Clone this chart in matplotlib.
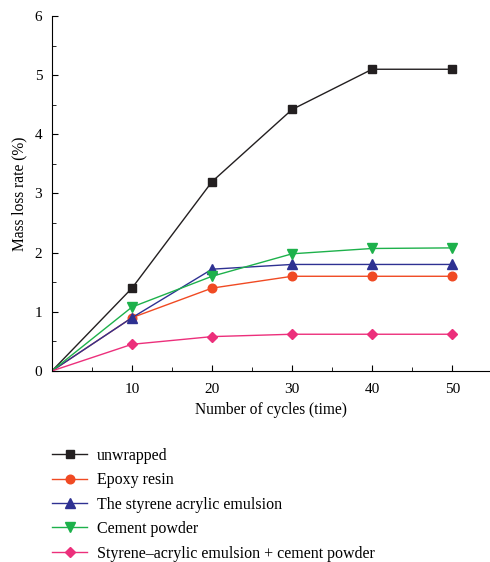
import numpy as np
import matplotlib.pyplot as plt
from matplotlib.ticker import MultipleLocator

plt.rcParams['font.family'] = ['Liberation Serif', 'DejaVu Serif']

cycles = [0, 10, 20, 30, 40, 50]
unwrapped = [0, 1.4, 3.2, 4.42, 5.1, 5.1]
epoxy = [0, 0.9, 1.4, 1.6, 1.6, 1.6]
styrene = [0, 0.9, 1.72, 1.8, 1.8, 1.8]
cement = [0, 1.08, 1.6, 1.98, 2.07, 2.08]
combo = [0, 0.45, 0.58, 0.62, 0.62, 0.62]

labels = ["unwrapped", "Epoxy resin", "The styrene acrylic emulsion",
          "Cement powder", "Styrene\u2013acrylic emulsion + cement powder"]
colors = ["#231f20", "#f04a23", "#2e3192", "#1db14b", "#ec2f7b"]
markers = ["s", "o", "^", "v", "D"]
sizes = [6.2, 6.2, 6.5, 6.5, 5.5]

fig = plt.figure(figsize=(4.9, 5.62), dpi=100)
ax = fig.add_axes([0.106, 0.340, 0.892, 0.6315])

for ys, lab, c, m, s in zip([unwrapped, epoxy, styrene, cement, combo],
                            labels, colors, markers, sizes):
    ax.plot(cycles, ys, color=c, marker=m, markersize=s, lw=1.0,
            label=lab, markevery=list(range(1, len(cycles))))

ax.set_xlim(0, 54.6)
ax.set_ylim(0, 6)
ax.set_xticks([10, 20, 30, 40, 50])
ax.xaxis.set_minor_locator(MultipleLocator(5))
ax.yaxis.set_major_locator(MultipleLocator(1))
ax.yaxis.set_minor_locator(MultipleLocator(0.5))
ax.tick_params(which='both', direction='in', labelsize=11)
ax.tick_params(which='major', length=4)
ax.tick_params(which='minor', length=3)
ax.tick_params(axis='x', pad=9)
ax.tick_params(axis='y', pad=7)
ax.spines['top'].set_visible(False)
ax.spines['right'].set_visible(False)
ax.set_xlabel("Number of cycles (time)", fontsize=11.2, labelpad=4)
ax.set_ylabel("Mass loss rate (%)", fontsize=11.2, labelpad=5)

h, l = ax.get_legend_handles_labels()
fig.legend(h, l, loc='upper left', bbox_to_anchor=(0.077, 0.229),
           frameon=False, fontsize=11.5, handlelength=2.2,
           labelspacing=0.53, handletextpad=0.62)

fig.savefig("out.png", dpi=100)
